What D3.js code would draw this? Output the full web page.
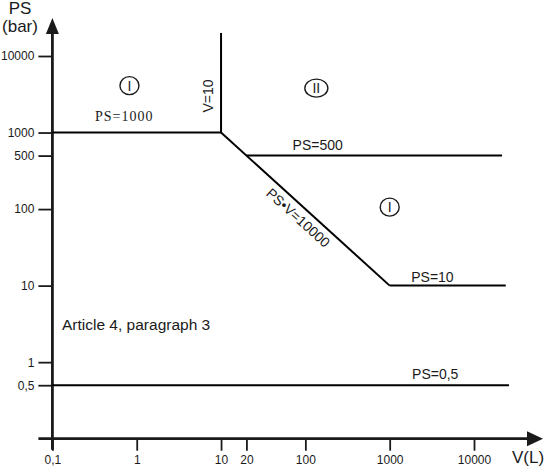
<!DOCTYPE html>
<html><head><meta charset="utf-8">
<script src="https://cdn.jsdelivr.net/npm/d3@7"></script>
<style>body{margin:0;background:#fff}svg{display:block}</style>
</head><body>
<svg id="c" width="547" height="468"></svg>
<script>
// Data
const xTicks = [0.1, 1, 10, 20, 100, 1000, 10000];
const xTickLabels = ["0,1", "1", "10", "20", "100", "1000", "10000"];
const yTicks = [0.5, 1, 10, 100, 500, 1000, 10000];
const yTickLabels = ["0,5", "1", "10", "100", "500", "1000", "10000"];
// boundary segments [V, PS] pairs
const ps1000 = [[0.1, 1000], [10, 1000]];
const v10 = [[10, 1000], [10, 20000]];
const psv10000 = [[10, 1000], [1000, 10]];
const ps500 = [[20, 500], [21500, 500]];
const ps10 = [[1000, 10], [23800, 10]];
const ps05 = [[0.1, 0.5], [26000, 0.5]];
const regions = [{label: "I", v: 0.82, ps: 4100}, {label: "II", v: 135, ps: 3800}, {label: "I", v: 1000, ps: 106}];

const svg = d3.select("#c");
const x = d3.scaleLog().domain([0.1, 10000]).range([52.4, 474]);
const y = d3.scaleLog().domain([0.1, 10000]).range([438.7, 56]);
const ink = "#1a1a1a";
const sans = "Liberation Sans, Arial, sans-serif";

// axes
const xAxis = d3.axisBottom(x).tickValues(xTicks).tickFormat((d, i) => xTickLabels[i]).tickSize(12);
const gx = svg.append("g").attr("transform", `translate(0,${y(0.1)})`).call(xAxis);
gx.select(".domain").remove();
gx.selectAll("line").attr("stroke", ink).attr("stroke-width", 1.8);
gx.selectAll("text").attr("dy", null).attr("y", 464.5 - y(0.1))
  .attr("font-family", sans).attr("font-size", 12).attr("fill", ink);

const yAxis = d3.axisLeft(y).tickValues(yTicks).tickFormat((d, i) => yTickLabels[i]).tickSize(14).tickPadding(4);
const gy = svg.append("g").attr("transform", `translate(${x(0.1)},0)`).call(yAxis);
gy.select(".domain").remove();
gy.selectAll("line").attr("stroke", ink).attr("stroke-width", 1.8);
gy.selectAll("text").attr("font-family", sans).attr("font-size", 12).attr("fill", ink);

// axis lines with arrows
const y0 = y(0.1), x0 = x(0.1);
svg.append("line").attr("x1", x0 - 14).attr("x2", 530).attr("y1", y0).attr("y2", y0).attr("stroke", ink).attr("stroke-width", 2.8);
svg.append("path").attr("d", `M543,${y0} L527,${y0 - 7.5} L527,${y0 + 7.5} Z`).attr("fill", ink);
svg.append("line").attr("x1", x0).attr("x2", x0).attr("y1", y0 + 11).attr("y2", 30).attr("stroke", ink).attr("stroke-width", 2.8);
svg.append("path").attr("d", `M${x0},18 L${x0 - 6.5},34 L${x0 + 6.5},34 Z`).attr("fill", ink);

// boundary lines
const line = d3.line().x(d => x(d[0])).y(d => y(d[1]));
[ps1000, v10, psv10000, ps500, ps10, ps05].forEach(seg => {
  svg.append("path").attr("d", line(seg)).attr("fill", "none").attr("stroke", "#000").attr("stroke-width", 2);
});

// region markers
regions.forEach(r => {
  const cx = x(r.v), cy = y(r.ps);
  svg.append("ellipse").attr("cx", cx).attr("cy", cy).attr("rx", r.label.length > 1 ? 11.5 : 9.5).attr("ry", 9)
    .attr("fill", "none").attr("stroke", ink).attr("stroke-width", 1.4);
  svg.append("text").attr("x", cx).attr("y", cy + 5).attr("text-anchor", "middle")
    .attr("font-family", sans).attr("font-size", 14).attr("fill", ink).text(r.label);
});

function txt(tx, ty, s, size, opts = {}) {
  const t = svg.append("text").attr("x", tx).attr("y", ty).attr("font-family", opts.font || sans)
    .attr("font-size", size).attr("fill", ink).attr("text-anchor", opts.anchor || "start").text(s);
  if (opts.rotate !== undefined) t.attr("transform", `rotate(${opts.rotate},${tx},${ty})`);
  if (opts.ls) t.attr("letter-spacing", opts.ls);
  return t;
}
txt(95, y(1000) - 12, "PS=1000", 14, {font: "Liberation Serif, Times New Roman, serif", ls: 1});
txt(x(10) - 8, y(3000), "V=10", 14, {rotate: -90, anchor: "middle"});
txt(x(140), y(500) - 6, "PS=500", 14, {anchor: "middle"});
txt(x(1800), y(10) - 4, "PS=10", 14);
txt(x(1845), y(0.5) - 6, "PS=0,5", 14);
txt(62, 330, "Article 4, paragraph 3", 15.5);
txt(20, 14, "PS", 17, {anchor: "middle"});
txt(20, 32, "(bar)", 17, {anchor: "middle"});
txt(512, 463, "V(L)", 17);
// diagonal label, parallel to PS·V=10000 line, below-left of it
const ang = Math.atan2(y(10) - y(1000), x(1000) - x(10)) * 180 / Math.PI;
txt(x(75), y(130) + 21, "PS•V=10000", 14, {rotate: ang, anchor: "middle"});
</script>
</body></html>
